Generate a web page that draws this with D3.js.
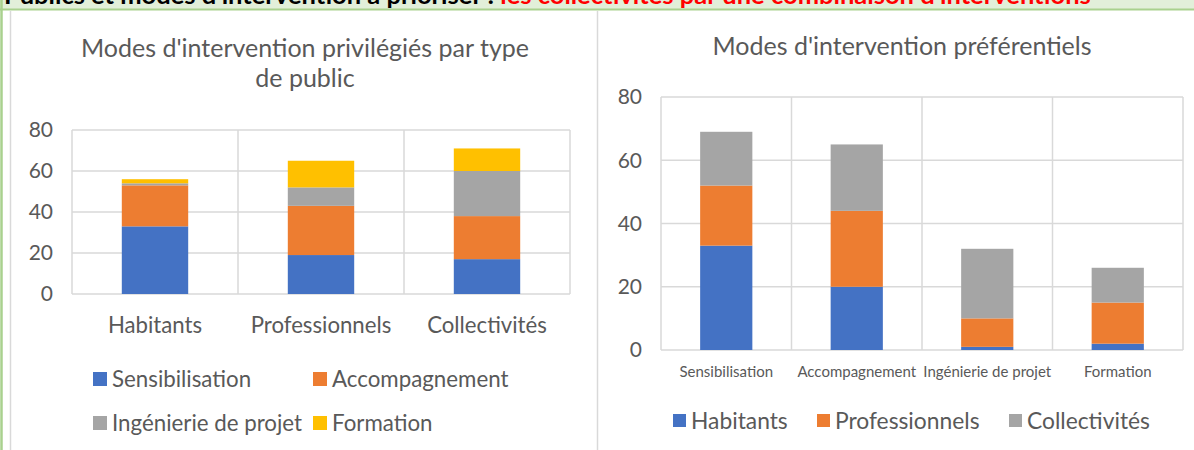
<!DOCTYPE html>
<html>
<head>
<meta charset="utf-8">
<script src="https://cdn.jsdelivr.net/npm/d3@7"></script>
<style>
  body { margin: 0; background: #fff; }
  svg { display: block; font-family: Lato, "Open Sans", sans-serif; }
</style>
</head>
<body>
<div id="vis"></div>
<script>
// two stacked bar charts: modes d'intervention x types de public

const publics = ["Habitants", "Professionnels", "Collectivités"];
const modes = ["Sensibilisation", "Accompagnement", "Ingénierie de projet", "Formation"];

// one row per public, one value per mode
const habitants = [33, 20, 1, 2];
const professionnels = [19, 24, 9, 13];
const collectivites = [17, 21, 22, 11];

const yTicks = [0, 20, 40, 60, 80];

const modeColors = ["#4472c4", "#ed7d31", "#a5a5a5", "#ffc000"];
const publicColors = ["#4472c4", "#ed7d31", "#a5a5a5"];

const rows = [habitants, professionnels, collectivites];

const W = 1194, H = 450;
const grid = "#d9d9d9", txt = "#595959";

const svg = d3.select("#vis").append("svg")
    .attr("width", W)
    .attr("height", H);

// header band (text is cut at the top)
svg.append("rect").attr("x", 0).attr("y", -10).attr("width", W).attr("height", 19)
    .attr("fill", "#e2efd9");
svg.append("line").attr("x1", 0).attr("x2", W).attr("y1", 9.5).attr("y2", 9.5)
    .attr("stroke", "#a9d18e").attr("stroke-width", 2);
svg.append("line").attr("x1", 1.5).attr("x2", 1.5).attr("y1", 0).attr("y2", H)
    .attr("stroke", "#a9d18e").attr("stroke-width", 2.5);

const head = svg.append("text")
    .attr("x", 4).attr("y", 4)
    .attr("font-size", 25.5).attr("font-weight", "bold")
    .attr("font-family", "Lato, sans-serif");
head.append("tspan").attr("fill", "#000").text("Publics et modes d'intervention à prioriser : ");
head.append("tspan").attr("fill", "#ff0000").text("les collectivités par une combinaison d'interventions");

// chart frames
svg.append("line").attr("x1", 10.5).attr("x2", 10.5).attr("y1", 11).attr("y2", H)
    .attr("stroke", grid).attr("stroke-width", 1.5);
svg.append("line").attr("x1", 597.5).attr("x2", 597.5).attr("y1", 11).attr("y2", H)
    .attr("stroke", grid).attr("stroke-width", 1.5);

function drawChart(o) {
    const g = svg.append("g");

    // build table {cat, series...}
    const table = o.categories.map((c, i) => {
        const r = { cat: c };
        o.series.forEach((s, j) => r[s] = o.value(i, j));
        return r;
    });
    const stacked = d3.stack().keys(o.series)(table);

    const x = d3.scaleBand().domain(o.categories).range([o.x0, o.x1]).paddingInner(0).paddingOuter(0);
    const y = d3.scaleLinear().domain([0, 80]).range([o.y0, o.y1]);
    const bw = x.bandwidth() * 0.4;

    // gridlines
    g.selectAll(".hg").data(yTicks).enter().append("line")
        .attr("x1", o.x0).attr("x2", o.x1)
        .attr("y1", d => y(d)).attr("y2", d => y(d))
        .attr("stroke", grid).attr("stroke-width", 1.5);
    const vx = o.categories.map(c => x(c)).concat([o.x1]);
    g.selectAll(".vg").data(vx).enter().append("line")
        .attr("x1", d => d).attr("x2", d => d)
        .attr("y1", y(80)).attr("y2", y(0))
        .attr("stroke", grid).attr("stroke-width", 1.5);

    // bars
    g.selectAll(".layer").data(stacked).enter().append("g")
        .attr("fill", (d, i) => o.colors[i])
        .selectAll("rect").data(d => d).enter().append("rect")
        .attr("x", d => x(d.data.cat) + (x.bandwidth() - bw) / 2)
        .attr("width", bw)
        .attr("y", d => y(d[1]))
        .attr("height", d => y(d[0]) - y(d[1]));

    // y tick labels
    g.selectAll(".yl").data(yTicks).enter().append("text")
        .attr("x", o.x0 - 19).attr("y", d => y(d))
        .attr("dy", "0.35em")
        .attr("text-anchor", "end")
        .attr("font-size", 21).attr("fill", txt)
        .text(d => d);

    // category labels
    g.selectAll(".xl").data(o.categories).enter().append("text")
        .attr("x", d => x(d) + x.bandwidth() / 2)
        .attr("y", o.catY)
        .attr("text-anchor", "middle")
        .attr("font-size", o.catSize).attr("fill", txt)
        .text(d => d);

    // title
    g.selectAll(".tt").data(o.title).enter().append("text")
        .attr("x", o.titleX).attr("y", (d, i) => o.titleY + i * 30)
        .attr("text-anchor", "middle")
        .attr("font-size", 25).attr("fill", txt)
        .text(d => d);

    // legend
    const lg = g.selectAll(".lg").data(o.series).enter().append("g")
        .attr("transform", (d, i) => "translate(" + o.legend[i][0] + "," + o.legend[i][1] + ")");
    lg.append("rect").attr("x", 0).attr("y", -15).attr("width", o.sq).attr("height", o.sq)
        .attr("fill", (d, i) => o.colors[i]);
    lg.append("text").attr("x", o.sq + 5).attr("y", 0)
        .attr("font-size", o.legendSize).attr("fill", txt)
        .text(d => d);
}

// chart 1: publics on x, modes stacked
drawChart({
    categories: publics,
    series: modes,
    value: (i, j) => rows[i][j],
    colors: modeColors,
    x0: 72, x1: 570, y0: 294, y1: 130,
    catY: 333, catSize: 22.2,
    title: ["Modes d'intervention privilégiés par type", "de public"],
    titleX: 305, titleY: 57,
    legend: [[93, 387], [313, 387], [93, 431], [313, 431]],
    legendSize: 22.3, sq: 14
});

// chart 2: modes on x, publics stacked
drawChart({
    categories: modes,
    series: publics,
    value: (i, j) => rows[j][i],
    colors: publicColors,
    x0: 661, x1: 1183, y0: 350, y1: 97,
    catY: 377, catSize: 15,
    title: ["Modes d'intervention préférentiels"],
    titleX: 902, titleY: 55,
    legend: [[673, 429], [817, 429], [1009, 429]],
    legendSize: 22.8, sq: 13
});
</script>
</body>
</html>
